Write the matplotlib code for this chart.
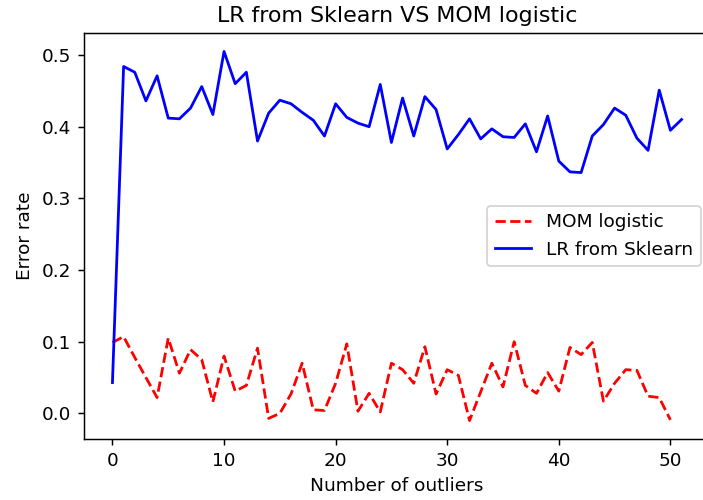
import matplotlib
matplotlib.use("Agg")
import matplotlib.pyplot as plt
import numpy as np

mom_logistic = [0.099, 0.107, 0.078, 0.050, 0.022, 0.105, 0.056, 0.089, 0.075, 0.016,
                0.080, 0.031, 0.039, 0.091, -0.007, 0.000, 0.027, 0.070, 0.005, 0.004,
                0.042, 0.097, 0.003, 0.028, 0.002, 0.070, 0.061, 0.042, 0.093, 0.027,
                0.061, 0.053, -0.010, 0.030, 0.070, 0.037, 0.100, 0.039, 0.028, 0.057,
                0.031, 0.092, 0.082, 0.099, 0.017, 0.042, 0.061, 0.060, 0.024, 0.022,
                -0.009]
lr_sklearn = [0.043, 0.484, 0.476, 0.436, 0.471, 0.412, 0.411, 0.426, 0.456, 0.417,
              0.505, 0.460, 0.476, 0.380, 0.419, 0.437, 0.432, 0.420, 0.409, 0.387,
              0.432, 0.413, 0.405, 0.400, 0.459, 0.378, 0.440, 0.387, 0.442, 0.424,
              0.369, 0.389, 0.411, 0.383, 0.397, 0.386, 0.385, 0.404, 0.365, 0.415,
              0.352, 0.337, 0.336, 0.387, 0.403, 0.426, 0.416, 0.384, 0.367, 0.451,
              0.395, 0.410]

title = "LR from Sklearn VS MOM logistic"
xlabel = "Number of outliers"
ylabel = "Error rate"

plt.rcParams['font.family'] = ['DejaVu Sans']

DPI = 133
fig = plt.figure(figsize=(703 / DPI, 500 / DPI), dpi=DPI)
ax = fig.add_axes([84 / 703, 1 - 439 / 500, 626 / 703, 406 / 500])

ax.plot(np.arange(len(mom_logistic)), mom_logistic, 'r--', label='MOM logistic')
ax.plot(np.arange(len(lr_sklearn)), lr_sklearn, 'b-', label='LR from Sklearn')

ax.set_title(title)
ax.set_xlabel(xlabel)
ax.set_ylabel(ylabel)
ax.legend(loc='center right')

fig.savefig("out.png", dpi=DPI)
